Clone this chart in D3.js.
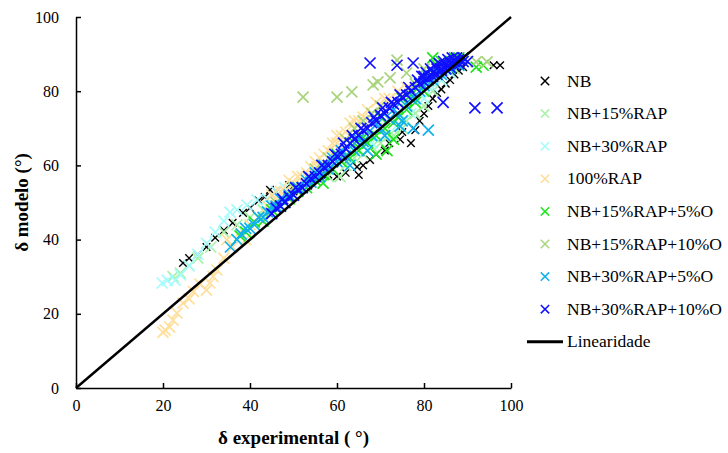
<!DOCTYPE html>
<html>
<head>
<meta charset="utf-8">
<script src="https://cdn.jsdelivr.net/npm/d3@7"></script>
<style>
  body { margin: 0; background: #fff; }
</style>
</head>
<body>
<svg id="chart" width="728" height="453"></svg>
<script>
// 数据 [experimental, modelo]
let nb = [[24.6,33.7],[26,35],[28,36],[30,38],[32,40.5],[34,42.5],[36,44.5],[38.4,47.2],[40,48.5],[42,50.5],[43.4,51.5],[44.6,53.4],[46,53],[49,54.7],[50,53],[52,54],[54,55.5],[56,57],[58,57.5],[60,57],[62,58],[64.6,59.6],[65,57.4],[66,60],[67.6,61.5],[69,63],[71,64],[72,66],[74.5,67],[75,69],[77,66],[78,69.5],[79,72],[80,74],[81,76],[82,78],[83,79.5],[84,80.5],[85,82],[86,83],[87,84.5],[88,85.5],[89,86.5],[96,87],[97.5,87]];
let nb15 = [[22.3,30],[24,31],[26,33],[28,35],[31,38],[34,42],[37,44],[40,46],[43,48],[46,50],[49,52],[52,54],[55,56],[58,57],[60.7,57],[62,60],[64,62],[66,63],[68,65],[70,66],[72,68],[73,68],[75,70],[76,72],[78,74],[80,76],[82,80],[84,83],[86,85],[88,87],[87,86],[89,88]];
let nb30 = [[19.8,28.3],[21,29],[22.8,29],[24,30.5],[26,33],[28,36],[30,39],[32,42],[34,45],[35.4,47.4],[37,48],[39.3,49.3],[41.6,50.7],[44,51],[46,53],[48,54],[50,55],[53,57],[56,59],[59,61],[62,63],[65,64],[68,66],[71,68],[74,71],[77,74],[80,78],[82,81],[84,83],[86,85],[88,87]];
let rap100 = [[20,15],[20.5,15.6],[21.5,16.5],[22.3,18.3],[23.2,20.2],[24.6,22.9],[26,24],[27,26],[28.5,28],[30,26.4],[30.8,28.3],[31.5,30],[32.4,31.8],[34,35],[34.7,40],[36,38],[37.7,42],[39,40],[40,44],[42,46],[44,49],[45,52],[46,51],[47,53],[48,53],[49,56],[50,55],[51,57],[52,57],[53,58],[54,59.6],[55.4,59.6],[55,61],[56,62],[57,63],[58,64],[59,66],[60,66],[60,68],[61,68],[62,69],[63,71.4],[64,70],[64,72],[65,72],[66,73],[67,75],[68,74],[69,77],[70,76],[71,78],[72,78],[74,80],[76,81]];
let nb15o5 = [[37.7,41],[39,42],[41,44.7],[43,45],[45,48],[47,49],[49,51],[51,53],[53,54],[55,56],[56.8,55.2],[57,57.5],[59,59],[60,63],[61,61],[63,62],[64,66],[65,64],[66,67.5],[67,66],[69,63],[69,68],[70,73],[71,70],[71.5,64],[73,67],[73,71.5],[74,73],[75,78],[76,75],[77,79],[78,77],[79,82],[80,80],[81,83],[82,85],[83,87],[84,88],[82,89],[86,88],[87,89],[88,89],[89,89],[92,86.5],[93.6,87]];
let nb15o10 = [[42,46],[46,50],[50,54],[52.2,78.4],[55,59],[58,62],[60,78.4],[62,67],[63.4,79.8],[64,70],[66,72],[68,74],[68.3,81.7],[69.4,82.5],[70,76],[72.2,83.6],[73.8,88.4],[76,84.9],[78,82],[80,86],[84,87],[86,88],[92,87.9],[94.5,87.9]];
let nb30o5 = [[35.5,38],[37,40],[38,41.5],[39,43],[40,43],[41,44],[42,46],[43,46],[44,47.5],[45,49],[46,49],[47,51],[48,50],[49,52],[50,52],[51,54],[52,54],[53,56],[54,55.5],[55,58],[56,57],[57,60],[58,59],[59,62],[60,61],[61,64],[62,62.5],[63,60],[64,64],[65,67],[66,66.5],[67,64],[68,68],[69,71],[70,70],[71,68],[72,72.5],[73,75],[74,74],[74.5,70.6],[75,72],[76,76],[77,78],[77.5,70],[78,78],[79,80],[80,81.5],[81,69.5],[81,84],[82,83],[83,85],[84,84.5],[85,86],[86,86],[87,87.5],[88,87]];
let nb30o10 = [[45,47],[46,48.5],[47,49],[47.5,51],[48,50],[49,51.5],[50,52],[50.5,54],[51,53.5],[52,54],[53,55],[53.5,57],[54,56.5],[55,57],[56,58],[56.5,60],[57,59.5],[58,60],[59,61],[59.5,63],[60,62.5],[61,63],[61.5,66],[62,64.5],[63,66],[63.5,68],[64,67],[65,68],[65.5,70],[66,69.5],[67,70],[67.6,87.6],[68,71.5],[68.5,73],[69,72],[70,73.5],[70.5,75.5],[71,74],[72,75.5],[72.5,77],[73,76.5],[73.8,87],[74,77],[74.5,79],[75,78.5],[76,79],[76.5,81],[77,80],[77.5,87.6],[78,81],[78.5,83],[79,82],[79.5,84],[80,82.5],[80,84],[80.5,85],[81,83.5],[81.5,86],[82,84],[82,85],[82.5,87],[83,84.5],[83,86],[83.5,87.5],[84,85.5],[84,86],[84.4,77],[84.5,88],[85,86],[85,87],[85.5,88.5],[86,86.5],[86,87.5],[86.5,89],[87,87],[87,88],[87.5,89],[88,87.5],[88,88.5],[89,88],[89,89],[90,88],[91.7,75.5],[96.8,75.5]];

let seriesNames = ["NB", "NB+15%RAP", "NB+30%RAP", "100%RAP", "NB+15%RAP+5%O", "NB+15%RAP+10%O", "NB+30%RAP+5%O", "NB+30%RAP+10%O"];
let seriesData = [nb, nb15, nb30, rap100, nb15o5, nb15o10, nb30o5, nb30o10];
let seriesColors = ["#000000", "#a8f2a8", "#a6fcfc", "#ffdf9c", "#1ee61e", "#a8d47c", "#0fb0ef", "#1010ff"];
let xTicks = [0, 20, 40, 60, 80, 100];
let yTicks = [0, 20, 40, 60, 80, 100];

let fontFamily = "Times New Roman, Liberation Serif, Tinos, DejaVu Serif, serif";
let svg = d3.select("#chart");
let margin = { left: 76, top: 17, right: 217, bottom: 65 };
let plotW = 728 - margin.left - margin.right;
let plotH = 453 - margin.top - margin.bottom;

let g = svg.append("g")
    .attr("transform", "translate(" + margin.left + "," + margin.top + ")");

let x = d3.scaleLinear().domain([0, 100]).range([0, plotW]);
let y = d3.scaleLinear().domain([0, 100]).range([plotH, 0]);

// 坐标轴
let xAxis = g.append("g")
    .attr("transform", "translate(0," + plotH + ")")
    .call(d3.axisBottom(x).tickValues(xTicks).tickSizeInner(-5).tickSizeOuter(0).tickPadding(12));
let yAxis = g.append("g")
    .call(d3.axisLeft(y).tickValues(yTicks).tickSizeInner(-5).tickSizeOuter(0).tickPadding(17));

[xAxis, yAxis].forEach(a => {
    a.attr("font-family", fontFamily).attr("font-size", 16);
    a.select(".domain").attr("stroke", "#000").attr("stroke-width", 1.5);
    a.selectAll(".tick line").attr("stroke", "#000").attr("stroke-width", 1.5);
    a.selectAll(".tick text").attr("fill", "#000");
});

// 轴标题
svg.append("text")
    .attr("x", margin.left + plotW / 2)
    .attr("y", 444)
    .attr("text-anchor", "middle")
    .attr("font-family", fontFamily)
    .style("font-size", "19px")
    .style("font-weight", "bold")
    .text("δ experimental ( °)");

svg.append("text")
    .attr("transform", "translate(28," + (margin.top + plotH / 2) + ") rotate(-90)")
    .attr("text-anchor", "middle")
    .attr("font-family", fontFamily)
    .style("font-size", "19px")
    .style("font-weight", "bold")
    .text("δ modelo (°)");

// 散点 (x 形)
function crossPath(s) {
    return "M" + (-s) + "," + (-s) + "L" + s + "," + s + "M" + (-s) + "," + s + "L" + s + "," + (-s);
}

seriesData.forEach((data, i) => {
    let size = i === 0 ? 3.8 : 5.5;
    g.append("g")
        .selectAll("path")
        .data(data)
        .enter().append("path")
        .attr("transform", d => "translate(" + x(d[0]) + "," + y(d[1]) + ")")
        .attr("d", crossPath(size))
        .attr("fill", "none")
        .attr("stroke", seriesColors[i])
        .attr("stroke-width", i === 0 ? 1.4 : 1.7);
});

// 线性线
g.append("line")
    .attr("x1", x(0)).attr("y1", y(0))
    .attr("x2", x(100)).attr("y2", y(100))
    .attr("stroke", "#000")
    .attr("stroke-width", 2.5);

// 图例
let legend = svg.append("g").attr("font-family", fontFamily);
let rowH = 32.6;
seriesNames.forEach((name, i) => {
    let cy = 81 + i * rowH;
    legend.append("path")
        .attr("transform", "translate(545," + cy + ")")
        .attr("d", crossPath(4.2))
        .attr("fill", "none")
        .attr("stroke", seriesColors[i])
        .attr("stroke-width", 1.5);
    legend.append("text")
        .attr("x", 567)
        .attr("y", cy + 5.5)
        .style("font-size", "17.5px")
        .text(name);
});
let ly = 81 + 8 * rowH;
legend.append("line")
    .attr("x1", 527).attr("x2", 563)
    .attr("y1", ly).attr("y2", ly)
    .attr("stroke", "#000")
    .attr("stroke-width", 3);
legend.append("text")
    .attr("x", 567)
    .attr("y", ly + 5.5)
    .style("font-size", "17.5px")
    .text("Linearidade");
</script>
</body>
</html>
